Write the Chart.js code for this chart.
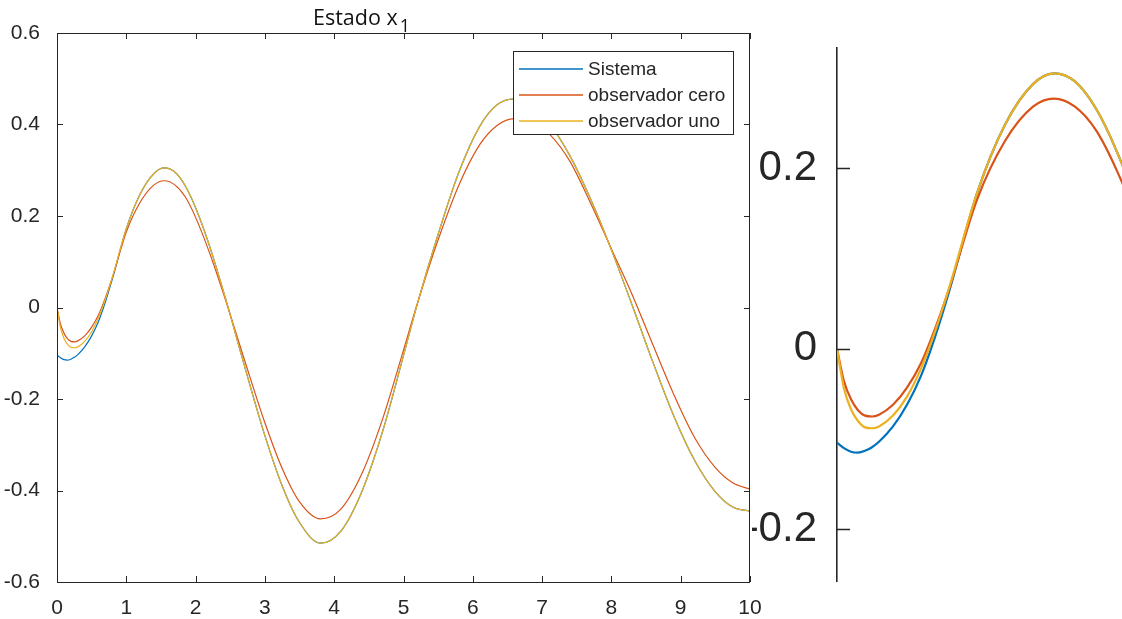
<!DOCTYPE html>
<html lang="es">
<head>
<meta charset="utf-8">
<title>Estado x1</title>
<script src="https://cdn.jsdelivr.net/npm/chart.js"></script>
<style>
  html, body { margin: 0; padding: 0; background: #fff; }
  #lienzo { position: relative; width: 1122px; height: 619px; overflow: hidden; background: #fff; }
  #principal { position: absolute; left: 0; top: 0; }
  #detalle { position: absolute; left: 752px; top: 0; }
</style>
</head>
<body>
<div id="lienzo">
  <canvas id="principal" width="1122" height="619"></canvas>
  <canvas id="detalle" width="370" height="619"></canvas>
</div>
<script>
// Tiempo de simulación (s)
const tiempo = [0, 0.05, 0.1, 0.15, 0.2, 0.25, 0.3, 0.4, 0.5, 0.6, 0.7, 0.8, 1.0, 1.2, 1.4, 1.55, 1.7, 1.85, 2.0, 2.2,
  2.45, 2.7, 3.0, 3.25, 3.5, 3.8, 4.1, 4.4, 4.7, 5.0, 5.2, 5.5, 5.8, 6.1, 6.35, 6.6, 6.85, 7.1, 7.4, 7.7,
  8.0, 8.3, 8.6, 8.9, 9.2, 9.5, 9.75, 10.0];

// Estado x1 del sistema real
const sistema = [-0.104, -0.110, -0.114, -0.115, -0.113, -0.109, -0.103, -0.086, -0.062, -0.030, 0.013, 0.063, 0.172, 0.248, 0.293, 0.305, 0.296, 0.266, 0.218, 0.135,
  0.010, -0.125, -0.280, -0.390, -0.470, -0.515, -0.488, -0.402, -0.270, -0.105, 0.008, 0.160, 0.296, 0.396, 0.443, 0.456, 0.442, 0.403, 0.332, 0.237,
  0.126, 0.005, -0.120, -0.237, -0.334, -0.403, -0.436, -0.445];

// Estimación del observador cero
const observadorCero = [0.000, -0.036, -0.056, -0.068, -0.074, -0.075, -0.073, -0.062, -0.043, -0.016, 0.022, 0.066, 0.165, 0.230, 0.268, 0.277, 0.268, 0.242, 0.197, 0.120,
  0.008, -0.112, -0.252, -0.352, -0.425, -0.462, -0.440, -0.363, -0.243, -0.093, 0.009, 0.148, 0.268, 0.356, 0.398, 0.413, 0.408, 0.380, 0.320, 0.228,
  0.128, 0.028, -0.082, -0.190, -0.284, -0.350, -0.383, -0.397];

// Estimación del observador uno
const observadorUno = [0.000, -0.044, -0.067, -0.080, -0.087, -0.088, -0.086, -0.074, -0.053, -0.022, 0.019, 0.067, 0.172, 0.248, 0.293, 0.305, 0.296, 0.266, 0.218, 0.135,
  0.010, -0.125, -0.280, -0.390, -0.470, -0.515, -0.488, -0.402, -0.270, -0.105, 0.008, 0.160, 0.296, 0.396, 0.443, 0.456, 0.442, 0.403, 0.332, 0.237,
  0.126, 0.005, -0.120, -0.237, -0.334, -0.403, -0.436, -0.445];

const nombresSeries = ['Sistema', 'observador cero', 'observador uno'];
const ticksX = [0, 1, 2, 3, 4, 5, 6, 7, 8, 9, 10];
const ticksY = [-0.6, -0.4, -0.2, 0, 0.2, 0.4, 0.6];
const ticksYDetalle = [-0.2, 0, 0.2];
const tituloTexto = 'Estado x';
const tituloSubindice = '1';

const colores = ['#0072BD', '#D95319', '#EDB120'];
const tinta = '#262626';
const fuente = "'Liberation Sans', Arial, Helvetica, sans-serif";

Chart.defaults.font.family = fuente;
Chart.defaults.color = tinta;

function puntos(valores) {
  return tiempo.map((t, i) => ({ x: t, y: valores[i] }));
}

function conjuntos(grosor) {
  const valores = [sistema, observadorCero, observadorUno];
  return valores.map((v, i) => ({
    label: nombresSeries[i],
    data: puntos(v),
    borderColor: colores[i],
    backgroundColor: colores[i],
    borderWidth: grosor,
    pointRadius: 0,
    fill: false,
    cubicInterpolationMode: 'monotone',
    order: 3 - i
  }));
}

// Marcas de graduación hacia dentro y caja de ejes al estilo MATLAB
const marcasInternas = {
  id: 'marcasInternas',
  afterDatasetsDraw(chart, args, o) {
    const { ctx, chartArea: a, scales } = chart;
    ctx.save();
    ctx.strokeStyle = o.color;
    ctx.lineWidth = o.width;
    ctx.beginPath();
    if (o.lados.includes('x')) {
      scales.x.ticks.forEach(t => {
        const px = Math.round(scales.x.getPixelForValue(t.value)) + 0.5;
        ctx.moveTo(px, a.bottom); ctx.lineTo(px, a.bottom - o.largo);
        ctx.moveTo(px, a.top); ctx.lineTo(px, a.top + o.largo);
      });
    }
    scales.y.ticks.forEach(t => {
      const py = Math.round(scales.y.getPixelForValue(t.value)) + 0.5;
      ctx.moveTo(a.left, py); ctx.lineTo(a.left + o.largo, py);
      if (o.lados.includes('derecha')) {
        ctx.moveTo(a.right, py); ctx.lineTo(a.right - o.largo, py);
      }
    });
    ctx.stroke();
    if (o.caja) {
      ctx.strokeRect(Math.round(a.left) + 0.5, Math.round(a.top) + 0.5,
        Math.round(a.right - a.left) - 1, Math.round(a.bottom - a.top));
    }
    ctx.restore();
  }
};

// Leyenda en recuadro dentro del área de ejes
const leyendaCaja = {
  id: 'leyendaCaja',
  afterDraw(chart, args, o) {
    const ctx = chart.ctx;
    ctx.save();
    ctx.fillStyle = '#fff';
    ctx.fillRect(o.x, o.y, o.ancho, o.alto);
    ctx.strokeStyle = tinta;
    ctx.lineWidth = 1;
    ctx.strokeRect(o.x + 0.5, o.y + 0.5, o.ancho, o.alto);
    ctx.font = o.tam + 'px ' + fuente;
    ctx.textBaseline = 'middle';
    ctx.textAlign = 'left';
    nombresSeries.forEach((nombre, i) => {
      const y = o.filas[i];
      ctx.beginPath();
      ctx.strokeStyle = colores[i];
      ctx.lineWidth = 1.5;
      ctx.moveTo(o.linea[0], y);
      ctx.lineTo(o.linea[1], y);
      ctx.stroke();
      ctx.fillStyle = tinta;
      ctx.fillText(nombre, o.textoX, y + 1);
    });
    ctx.restore();
  }
};

// Título con subíndice
const tituloSub = {
  id: 'tituloSub',
  afterDraw(chart, args, o) {
    const ctx = chart.ctx;
    ctx.save();
    ctx.fillStyle = '#111';
    ctx.textAlign = 'left';
    ctx.textBaseline = 'alphabetic';
    ctx.font = o.tam + "px 'Open Sans', 'Noto Sans', sans-serif";
    ctx.fillText(tituloTexto, o.x, o.base);
    const w = ctx.measureText(tituloTexto).width;
    ctx.font = o.tamSub + "px 'Open Sans', 'Noto Sans', sans-serif";
    ctx.fillText(tituloSubindice, o.x + w + 2, o.base + o.bajada);
    ctx.restore();
  }
};

new Chart(document.getElementById('principal'), {
  type: 'line',
  data: { datasets: conjuntos(1.2) },
  plugins: [marcasInternas, leyendaCaja, tituloSub],
  options: {
    responsive: false,
    animation: false,
    events: [],
    layout: { padding: { left: 0, right: 372, top: 33, bottom: 0 } },
    scales: {
      x: {
        type: 'linear', min: 0, max: 10,
        afterBuildTicks: s => { s.ticks = ticksX.map(v => ({ value: v })); },
        afterFit: s => { s.height = 37; },
        grid: { display: false },
        border: { display: false },
        ticks: { padding: 6, color: tinta, font: { size: 21 }, maxRotation: 0, autoSkip: false, callback: v => String(v) }
      },
      y: {
        type: 'linear', min: -0.6, max: 0.6,
        afterBuildTicks: s => { s.ticks = ticksY.map(v => ({ value: v })); },
        afterFit: s => { s.width = 57; },
        grid: { display: false },
        border: { display: false },
        ticks: { padding: 9, color: tinta, font: { size: 21 }, autoSkip: false, callback: v => String(v) }
      }
    },
    plugins: {
      legend: { display: false },
      tooltip: { enabled: false },
      marcasInternas: { color: tinta, width: 1, largo: 6, lados: ['x', 'derecha'], caja: true },
      leyendaCaja: { x: 513, y: 51, ancho: 220, alto: 83, linea: [519, 583], textoX: 588, filas: [69, 95, 121], tam: 19 },
      tituloSub: { x: 313, base: 25, tam: 21.5, tamSub: 18, bajada: 7 }
    }
  }
});

new Chart(document.getElementById('detalle'), {
  type: 'line',
  data: { datasets: conjuntos(2.2) },
  plugins: [marcasInternas],
  options: {
    responsive: false,
    animation: false,
    events: [],
    layout: { padding: { left: 0, right: 0, top: 48, bottom: 31 } },
    scales: {
      x: { type: 'linear', min: 0, max: 2.036, display: false },
      y: {
        type: 'linear', min: -0.258, max: 0.333,
        afterBuildTicks: s => { s.ticks = ticksYDetalle.map(v => ({ value: v })); },
        afterFit: s => { s.width = 85; },
        grid: { display: false },
        border: { display: true, color: tinta, width: 1.6 },
        ticks: { padding: 12, color: tinta, font: { size: 42 }, autoSkip: false, callback: v => String(v) }
      }
    },
    plugins: {
      legend: { display: false },
      tooltip: { enabled: false },
      marcasInternas: { color: tinta, width: 1.6, largo: 13, lados: [], caja: false }
    }
  }
});
</script>
</body>
</html>
